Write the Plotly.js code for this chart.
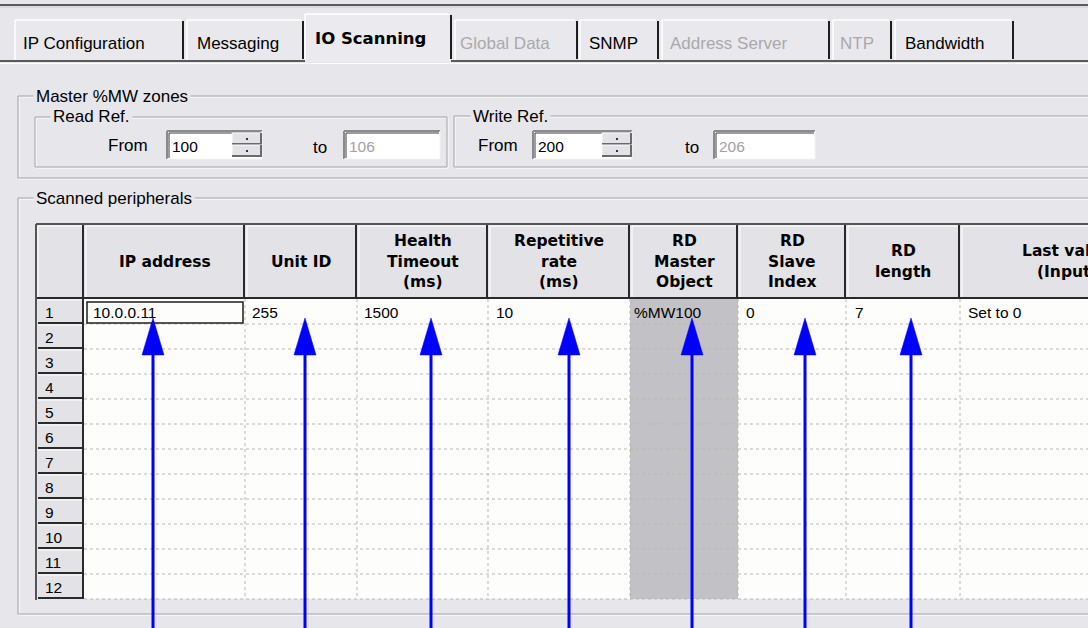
<!DOCTYPE html>
<html><head><meta charset="utf-8">
<script src="https://cdn.plot.ly/plotly-3.0.1.min.js"></script>
<style>html,body{margin:0;padding:0;background:#e7e6ea;overflow:hidden}#g{width:1088px;height:628px}</style>
</head><body><div id="g"></div>
<script>
// ---------------- DATA ----------------
const tabLabels = ["IP Configuration","Messaging","IO Scanning","Global Data","SNMP","Address Server","NTP","Bandwidth"];
const tabEnabled = [true,true,true,false,true,false,false,true];
const selectedTab = "IO Scanning";
const groupMaster = "Master %MW zones";
const groupRead = "Read Ref.";
const groupWrite = "Write Ref.";
const groupScanned = "Scanned peripherals";
const fromLabel = "From";
const toLabel = "to";
const readFrom = "100";
const readTo = "106";
const writeFrom = "200";
const writeTo = "206";
const columnHeaders = [["IP address"],["Unit ID"],["Health","Timeout","(ms)"],["Repetitive","rate","(ms)"],["RD","Master","Object"],["RD","Slave","Index"],["RD","length"],["Last value","(Input)"]];
const rowNumbers = ["1","2","3","4","5","6","7","8","9","10","11","12"];
const row1Values = ["10.0.0.11","255","1500","10","%MW100","0","7","Set to 0"];
const arrowedColumns = ["IP address","Unit ID","Health Timeout","Repetitive rate","RD Master Object","RD Slave Index","RD length"];

// ---------------- LAYOUT CONSTANTS ----------------
const W = 1088, H = 628;
const BG = "#e7e6ea", HDR = "#e3e2e6", DARK = "#2a2a2a", ETCH = "#a4a3a8", WHITE = "#ffffff";
const UI = "Liberation Sans, Arial, sans-serif";
const BOLD = "DejaVu Sans, Verdana, sans-serif";
const TAB_EDGES = [[15,183],[187,303],[305,451],[455,577],[580,658],[662,829],[833,891],[895,1013]];
const TAB_TEXT_X = [22,196,314,459,588,669,839,904];
const COL_EDGES = [36,84,245,357,488,630,738,846,960,1174];
const HEADER_TOP = 224, ROW_TOP = 299, ROW_H = 25, TABLE_RIGHT = 1200;
const ARROW_X = [153,305,431,569,692,805,911];
const ARROW_TIP = 318, ARROW_BASE = 355, ARROW_HALF = 11;

const shapes = [];
const ann = [];
function rect(x0,y0,x1,y1,fill,lc,lw){shapes.push({type:"rect",xref:"x",yref:"y",x0,y0,x1,y1,fillcolor:fill||"rgba(0,0,0,0)",line:{color:lc||"rgba(0,0,0,0)",width:lw||0},layer:"below"});}
function line(x0,y0,x1,y1,c,w,dash){shapes.push({type:"line",xref:"x",yref:"y",x0,y0,x1,y1,line:{color:c,width:w||1,dash:dash||"solid"},layer:"below"});}
function text(t,x,y,o){o=o||{};ann.push({text:t,x,y,xref:"x",yref:"y",showarrow:false,xanchor:o.xa||"left",yanchor:"middle",
  font:{family:o.family||UI,size:o.size||17,color:o.color||"#000",weight:o.weight||"normal"},bgcolor:o.bg||"rgba(0,0,0,0)",borderpad:o.pad||0});}
function etched(x0,y0,x1,y1){rect(x0+1,y0+1,x1+1,y1+1,null,WHITE,1);rect(x0,y0,x1,y1,null,ETCH,1);}
function sunken(x0,y0,x1,y1){rect(x0,y0,x1,y1,WHITE);line(x0,y0,x1,y0,"#8a898d",2);line(x0,y0,x0,y1,"#8a898d",2);
  line(x0+2,y0+2,x1-1,y0+2,"#3a3a3a",1);line(x0+2,y0+2,x0+2,y1-1,"#3a3a3a",1);line(x0,y1,x1,y1,"#f4f4f4",1);line(x1,y0,x1,y1,"#f4f4f4",1);}
function spinner(x0,y0,x1,y1){const m=(y0+y1)/2;[[y0,m],[m,y1]].forEach(([a,b])=>{rect(x0,a,x1,b,HDR);line(x0,a,x1,a,WHITE,1);line(x0,a,x0,b,WHITE,1);
  line(x0,b-1,x1,b-1,"#6a6a6a",2);line(x1-1,a,x1-1,b,"#6a6a6a",2);rect((x0+x1)/2-1,(a+b)/2-1,(x0+x1)/2+1,(a+b)/2+1,"#333");});}

// ---- top tab strip ----
line(0,5,W,5,"#5c5c5c",2);
line(0,7,W,7,"#cfcdd2",1);
line(0,61,W,61,"#5a5a5a",2);
line(0,63.5,W,63.5,WHITE,1);
tabLabels.forEach((t,i)=>{
  const sel = t===selectedTab, [x0,x1]=TAB_EDGES[i], top = sel?14:20;
  rect(x0,top,x1,sel?62:60,sel?"#ebeaee":"#e9e8ec");
  line(x0,top,x1-2,top,WHITE,1.5);
  line(x0,top,x0,60,WHITE,1.5);
  line(x1,top+1,x1,59,"#1e1e1e",2);
  text(t,TAB_TEXT_X[i],sel?38:43,{size:sel?16.5:17,weight:sel?"bold":"normal",color:tabEnabled[i]?"#000":"#a9a8ac",family:sel?BOLD:UI});
});

// ---- Master %MW zones ----
etched(18,96,TABLE_RIGHT,178);
text(groupMaster,33,96,{bg:BG,pad:2});
etched(35,117,447,167);
text(groupRead,50,116,{bg:BG,pad:2});
etched(454,116,TABLE_RIGHT,167);
text(groupWrite,470,116,{bg:BG,pad:2});
text(fromLabel,107,145);
sunken(167,131,262,159); spinner(232,133,262,157);
text(readFrom,171,146,{size:15.5});
text(toLabel,312,147);
sunken(344,131,440,159);
text(readTo,348,146,{size:15.5,color:"#a3a2a6"});
text(fromLabel,477,145);
sunken(533,131,632,159); spinner(602,133,632,157);
text(writeFrom,537,146,{size:15.5});
text(toLabel,684,147);
sunken(714,131,815,159);
text(writeTo,718,146,{size:15.5,color:"#a3a2a6"});

// ---- Scanned peripherals ----
etched(18,198,TABLE_RIGHT,614);
text(groupScanned,33,198,{bg:BG,pad:2});
const nRows = rowNumbers.length, tableBottom = ROW_TOP + nRows*ROW_H;
rect(COL_EDGES[1],ROW_TOP,TABLE_RIGHT,tableBottom,"#fdfdfc");
rect(COL_EDGES[5],ROW_TOP,COL_EDGES[6],tableBottom,"#c2c1c5");
for(let i=0;i<COL_EDGES.length-1;i++){
  const x0=COL_EDGES[i], x1=COL_EDGES[i+1];
  rect(x0,HEADER_TOP,x1,ROW_TOP,HDR);
  line(x0+2,HEADER_TOP+2,x1-2,HEADER_TOP+2,WHITE,1);
  line(x0+2,HEADER_TOP+2,x0+2,ROW_TOP-2,WHITE,1);
  line(x1-1,HEADER_TOP,x1-1,ROW_TOP,DARK,2);
  line(x0,ROW_TOP-1,x1,ROW_TOP-1,DARK,2);
}
line(36,HEADER_TOP,TABLE_RIGHT,HEADER_TOP,"#555",2);
line(36,HEADER_TOP,36,tableBottom+1,"#555",2);
columnHeaders.forEach((lines,i)=>{
  const cx=(COL_EDGES[i+1]+COL_EDGES[i+2])/2, cy=(HEADER_TOP+ROW_TOP)/2, sp=20.5;
  lines.forEach((l,k)=>text(l,cx,cy+(k-(lines.length-1)/2)*sp,{xa:"center",family:BOLD,size:15.5,weight:"bold"}));
});
for(let r=1;r<=nRows;r++){ line(COL_EDGES[1],ROW_TOP+r*ROW_H,TABLE_RIGHT,ROW_TOP+r*ROW_H,"#bdb9b3",1,"dot"); }
for(let i=2;i<COL_EDGES.length;i++){ line(COL_EDGES[i],ROW_TOP,COL_EDGES[i],tableBottom,"#bdb9b3",1,"dot"); }
rowNumbers.forEach((n,r)=>{
  const y0=ROW_TOP+r*ROW_H, y1=y0+ROW_H;
  rect(38,y0,COL_EDGES[1],y1,HDR);
  line(38,y0+1,COL_EDGES[1]-2,y0+1,WHITE,1);
  line(38,y1-1,COL_EDGES[1],y1-1,DARK,2);
  line(COL_EDGES[1]-1,y0,COL_EDGES[1]-1,y1,DARK,2);
  text(n,44,y0+ROW_H/2+1,{size:15.5});
});
const padX=[8,6,6,7,3,7,8,7];
row1Values.forEach((v,i)=>text(v,COL_EDGES[i+1]+padX[i],ROW_TOP+ROW_H/2+1,{size:15.5}));
rect(COL_EDGES[1]+3,ROW_TOP+3,COL_EDGES[2]-2,ROW_TOP+ROW_H-1,null,"#1e1e1e",1.5);

// ---- blue arrows (traces) ----
const traces=[];
arrowedColumns.forEach((c,i)=>{
  const x=ARROW_X[i];
  traces.push({type:"scatter",mode:"lines",x:[x,x],y:[H+2,ARROW_BASE-2],line:{color:"#0000ff",width:3},hoverinfo:"skip",name:c,showlegend:false});
  traces.push({type:"scatter",mode:"lines",x:[x-ARROW_HALF,x+ARROW_HALF,x,x-ARROW_HALF],y:[ARROW_BASE,ARROW_BASE,ARROW_TIP,ARROW_BASE],
    fill:"toself",fillcolor:"#0000ff",line:{color:"#0000ff",width:0.5},hoverinfo:"skip",name:c,showlegend:false});
});

Plotly.newPlot("g",traces,{
  width:W,height:H,margin:{l:0,r:0,t:0,b:0},paper_bgcolor:BG,plot_bgcolor:BG,
  xaxis:{range:[0,W],visible:false,fixedrange:true},
  yaxis:{range:[H,0],visible:false,fixedrange:true},
  shapes:shapes,annotations:ann,showlegend:false
},{staticPlot:true,displayModeBar:false});
</script></body></html>
